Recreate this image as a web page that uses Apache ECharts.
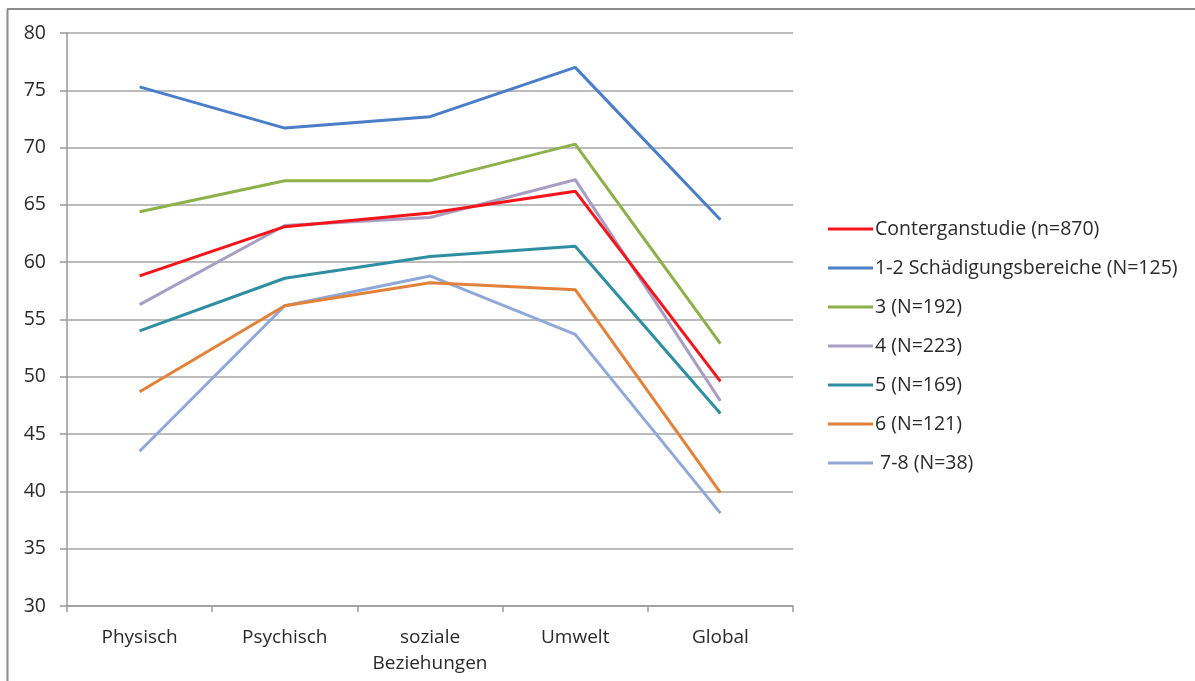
<!DOCTYPE html>
<html>
<head>
<meta charset="utf-8">
<script src="https://cdn.jsdelivr.net/npm/echarts@6/dist/echarts.min.js"></script>
<style>html,body{margin:0;padding:0;background:#fff;}#c{width:1195px;height:681px;}</style>
</head>
<body>
<div id="c"></div>
<script>
const categories = ['Physisch', 'Psychisch', 'soziale\nBeziehungen', 'Umwelt', 'Global'];
const contergan = [58.8, 63.1, 64.3, 66.2, 49.6];
const s12 = [75.3, 71.7, 72.7, 77.0, 63.7];
const s3 = [64.4, 67.1, 67.1, 70.3, 52.9];
const s4 = [56.3, 63.2, 63.9, 67.2, 47.9];
const s5 = [54.0, 58.6, 60.5, 61.4, 46.8];
const s6 = [48.7, 56.2, 58.2, 57.6, 39.9];
const s78 = [43.5, 56.2, 58.8, 53.7, 38.1];
const seriesNames = ['Conterganstudie (n=870)', '1-2 Schädigungsbereiche (N=125)', '3 (N=192)', '4 (N=223)', '5 (N=169)', '6 (N=121)', ' 7-8 (N=38)'];
const seriesData = [contergan, s12, s3, s4, s5, s6, s78];
const colors = ['#F5141A', '#4A7EC8', '#8DB04A', '#A89DC2', '#2E8FA3', '#E2823A', '#8FA8D8'];
const yTicks = {min: 30, max: 80, interval: 5};

const font = '"Open Sans", sans-serif';
const chart = echarts.init(document.getElementById('c'), null, {renderer: 'canvas'});
const series = seriesNames.map((n, i) => ({
  name: n,
  type: 'line',
  data: seriesData[i],
  symbol: 'none',
  showSymbol: false,
  lineStyle: {width: 3, color: colors[i]},
  itemStyle: {color: colors[i]},
  z: i === 0 ? 10 : 2 + (7 - i) * 0.01,
  animation: false
}));
chart.setOption({
  animation: false,
  backgroundColor: '#fff',
  color: colors,
  grid: {left: 67, right: 402, top: 33, bottom: 75, containLabel: false},
  xAxis: {
    type: 'category',
    data: categories,
    boundaryGap: true,
    axisLine: {show: true, lineStyle: {color: '#9a9a9a', width: 1.5}},
    axisTick: {show: true, alignWithLabel: false, length: 6, lineStyle: {color: '#9a9a9a', width: 1.5}},
    axisLabel: {color: '#2a2a2a', fontFamily: font, fontSize: 19, margin: 19, lineHeight: 26, interval: 0}
  },
  yAxis: {
    type: 'value',
    min: yTicks.min, max: yTicks.max, interval: yTicks.interval,
    axisLine: {show: true, lineStyle: {color: '#9a9a9a', width: 1.5}},
    axisTick: {show: true, length: 7, lineStyle: {color: '#9a9a9a', width: 1.5}},
    axisLabel: {color: '#2a2a2a', fontFamily: font, fontSize: 19.5, margin: 21},
    splitLine: {show: true, lineStyle: {color: '#a6a6a6', width: 1.5}}
  },
  legend: {
    orient: 'vertical',
    left: 823,
    top: 214,
    itemWidth: 45,
    itemHeight: 14,
    itemGap: 19.0,
    textStyle: {color: '#2a2a2a', fontFamily: font, fontSize: 19.5, padding: [0, 0, 0, -3]},
    data: seriesNames.map((n, i) => ({name: n, icon: 'path://M0,6 L45,6 L45,9 L0,9 Z', itemStyle: {color: colors[i]}}))
  },
  graphic: [
    {type: 'line', shape: {x1: 7, y1: 9, x2: 1195, y2: 9}, style: {stroke: '#8c8c8c', lineWidth: 2}, silent: true},
    {type: 'line', shape: {x1: 7.5, y1: 9, x2: 7.5, y2: 681}, style: {stroke: '#8c8c8c', lineWidth: 2}, silent: true}
  ],
  series: series
});
</script>
</body>
</html>
